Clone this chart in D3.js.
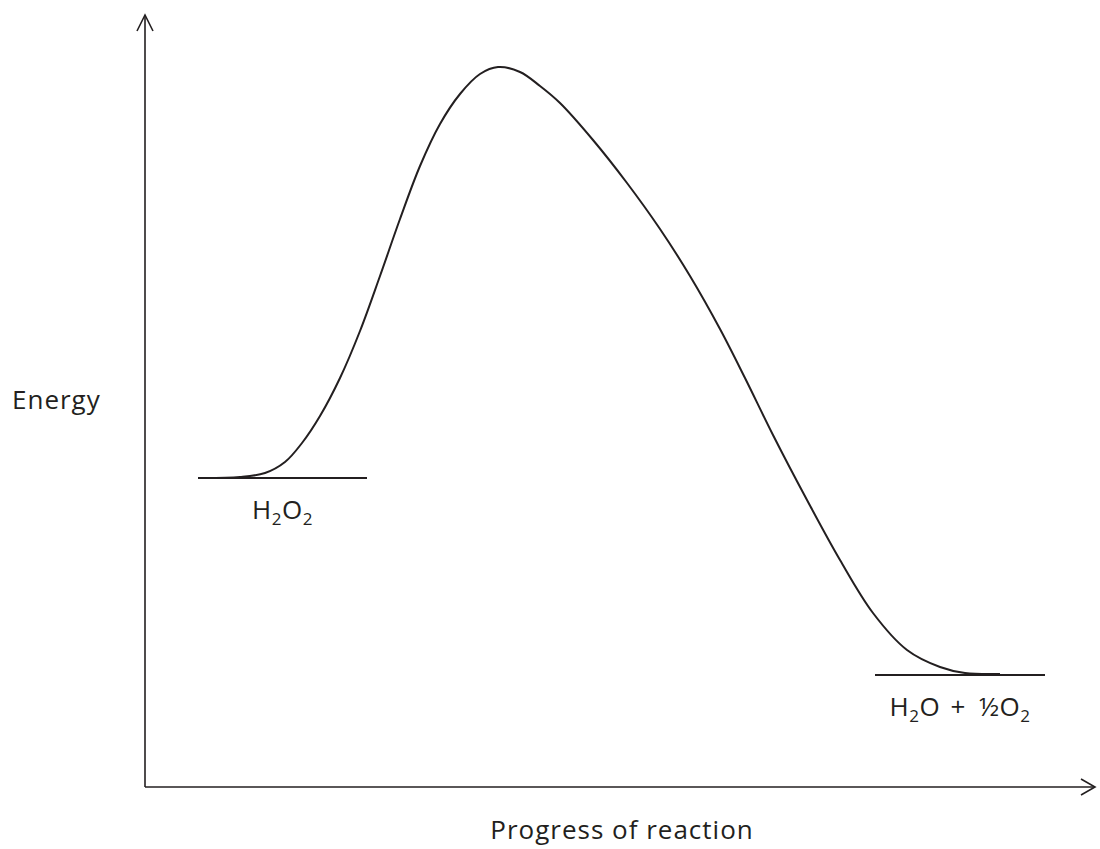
<!DOCTYPE html>
<html>
<head>
<meta charset="utf-8">
<script src="https://cdn.jsdelivr.net/npm/d3@7"></script>
<style>
  html, body { margin: 0; padding: 0; background: #fff; }
  svg text { font-family: "Open Sans", "Noto Sans", sans-serif; fill: #231f20; white-space: pre; }
</style>
</head>
<body>
<svg id="chart" width="1100" height="849"></svg>
<script>
// ---- data (progress of reaction, energy) in arbitrary units ----
const curveProgress = [55, 95, 120, 140, 157, 175, 195, 215, 235, 255, 275, 295, 315, 335, 353, 375, 395, 415, 448, 482, 515, 545, 575, 600, 628, 662, 695, 728, 762, 795, 820, 855];
const curveEnergy   = [309, 310, 314, 325, 344, 371, 409, 456, 511, 568, 621, 663, 693, 713, 720, 715, 701, 684, 647, 604, 558, 511, 458, 409, 352, 287, 227, 174, 137, 120, 114, 113];

const levelNames    = ["reactant", "product"];
const levelEnergy   = [309, 112];
const levelStart    = [53, 730];
const levelEnd      = [222, 900];
const levelLabels   = [
  [["H", false], ["2", true], ["O", false], ["2", true]],
  [["H", false], ["2", true], ["O", false], [" + ", false], ["½O", false], ["2", true]]
];

const xMax = 950, yMax = 772;
const xTitle = "Progress of reaction";
const yTitle = "Energy";

// ---- drawing ----
const svg = d3.select("#chart");
const x = d3.scaleLinear().domain([0, xMax]).range([145, 1095]);
const y = d3.scaleLinear().domain([0, yMax]).range([787, 15]);
const ink = "#231f20";

// axes
const axes = svg.append("g").attr("stroke", ink).attr("stroke-width", 1.6).attr("fill", "none");
axes.append("line").attr("x1", x(0)).attr("y1", y(0)).attr("x2", x(0)).attr("y2", y(yMax));
axes.append("line").attr("x1", x(0)).attr("y1", y(0)).attr("x2", x(xMax)).attr("y2", y(0));
// arrowheads (open chevrons)
axes.append("path").attr("d", `M${x(0)-8},${y(yMax)+16} L${x(0)},${y(yMax)} L${x(0)+8},${y(yMax)+16}`);
axes.append("path").attr("d", `M${x(xMax)-14},${y(0)-8} L${x(xMax)},${y(0)} L${x(xMax)-14},${y(0)+8}`);

// energy levels
levelNames.forEach((n, i) => {
  svg.append("line")
    .attr("x1", x(levelStart[i])).attr("x2", x(levelEnd[i]))
    .attr("y1", y(levelEnergy[i])).attr("y2", y(levelEnergy[i]))
    .attr("stroke", ink).attr("stroke-width", 1.8);
  const t = svg.append("text")
    .attr("x", (x(levelStart[i]) + x(levelEnd[i])) / 2)
    .attr("y", y(levelEnergy[i]) + 41)
    .attr("text-anchor", "middle")
    .attr("font-size", 26)
    .attr("letter-spacing", 0.5);
  let shifted = false;
  levelLabels[i].forEach(([s, sub]) => {
    const ts = t.append("tspan").text(s);
    if (s === " + ") ts.attr("letter-spacing", 3.5);
    if (sub && !shifted) { ts.attr("dy", 6).attr("font-size", 17); shifted = true; }
    else if (!sub && shifted) { ts.attr("dy", -6); shifted = false; }
    else if (sub) { ts.attr("font-size", 17); }
  });
});

// reaction curve
const pts = curveProgress.map((p, i) => [p, curveEnergy[i]]);
svg.append("path")
  .datum(pts)
  .attr("fill", "none")
  .attr("stroke", ink)
  .attr("stroke-width", 2)
  .attr("d", d3.line().x(d => x(d[0])).y(d => y(d[1])).curve(d3.curveCatmullRom.alpha(0.5)));

// titles
svg.append("text").attr("x", 12).attr("y", 409).attr("font-size", 26).attr("letter-spacing", 1).text(yTitle);
svg.append("text").attr("x", 622).attr("y", 839).attr("text-anchor", "middle").attr("font-size", 26).attr("letter-spacing", 1).text(xTitle);
</script>
</body>
</html>
